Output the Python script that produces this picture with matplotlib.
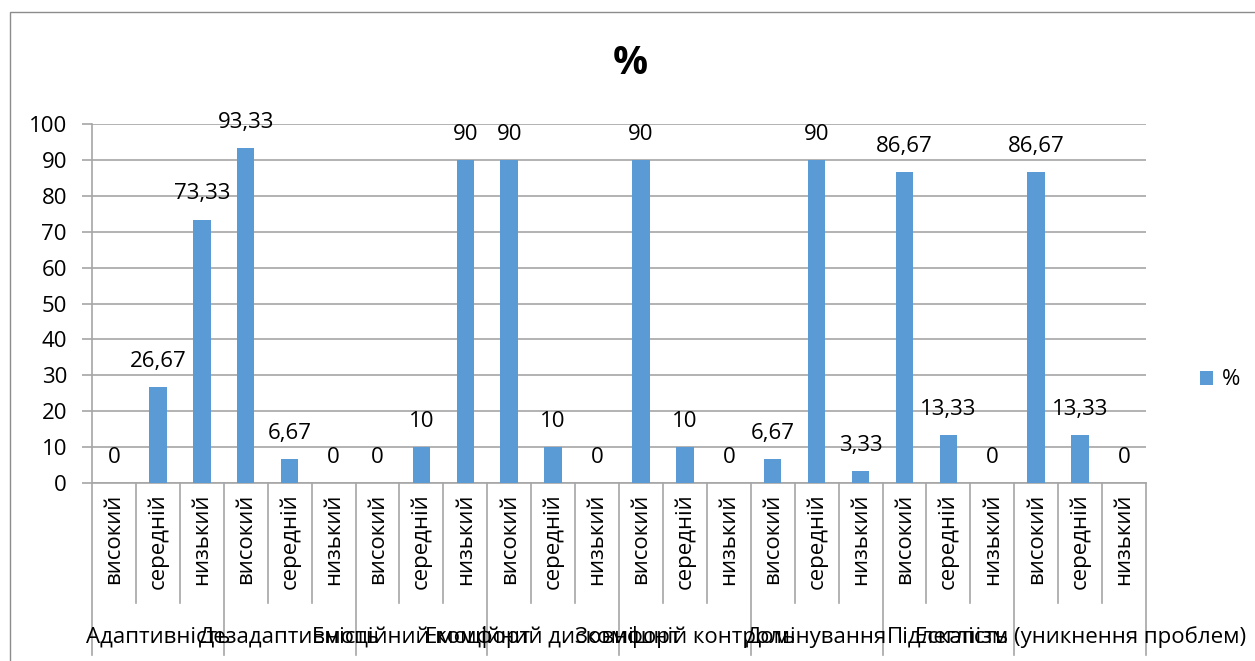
import matplotlib
matplotlib.use("Agg")
import matplotlib.pyplot as plt
from matplotlib.patches import Rectangle

plt.rcParams["font.family"] = ["Open Sans", "DejaVu Sans"]

GROUPS = ["Адаптивність", "Дезадаптивність", "Емоційний комфорт", "Емоційний дискомфорт",
          "Зовнішній контроль", "Домінування", "Підлеглість", "Ескапізм (уникнення проблем)"]
LEVELS = ["високий", "середній", "низький"]
VALUES = [0, 26.67, 73.33,
          93.33, 6.67, 0,
          0, 10, 90,
          90, 10, 0,
          90, 10, 0,
          6.67, 90, 3.33,
          86.67, 13.33, 0,
          86.67, 13.33, 0]
SERIES = "%"

BAR = "#5B9BD5"; GRID = "#A6A6A6"; FS = 16

fig = plt.figure(figsize=(12.55, 6.61), dpi=100)
fig.patches.append(Rectangle((10 / 1255, -0.1), 1.2, (661 - 12) / 661 + 0.1, transform=fig.transFigure,
                             fill=False, ec="#8c8c8c", lw=1.0))
ax = fig.add_axes([92 / 1255, (661 - 483) / 661, (1146 - 92) / 1255, (483 - 124) / 661])

n = len(VALUES)
xs = list(range(n))
bars = ax.bar(xs, VALUES, width=0.4, color=BAR, zorder=3, label=SERIES)
for x, v in zip(xs, VALUES):
    lab = f"{v:g}".replace(".", ",")
    ax.annotate(lab, (x, v), xytext=(0, 11), textcoords="offset points",
                ha="center", va="bottom", fontsize=FS, zorder=4)

ax.set_xlim(-0.5, n - 0.5)
ax.set_ylim(0, 100)
ax.set_yticks(range(0, 101, 10))
ax.yaxis.grid(True, color=GRID, lw=1.2, zorder=0)
ax.tick_params(axis="y", length=7, width=1.2, color=GRID, pad=11, labelsize=FS)
ax.tick_params(axis="x", length=0, labelbottom=False)
for s in ["top", "right"]:
    ax.spines[s].set_visible(False)
for s in ["left", "bottom"]:
    ax.spines[s].set_color(GRID); ax.spines[s].set_linewidth(1.2)

tr = ax.get_xaxis_transform()
for k in range(n + 1):
    xb = k - 0.5
    y1 = -0.48 if k % 3 == 0 else -0.333
    ax.plot([xb, xb], [0, y1], transform=tr, color=GRID, lw=1.2, clip_on=False)
for i in range(n):
    ax.text(i, -0.03, LEVELS[i % 3], transform=tr, rotation=90, ha="center", va="top", fontsize=FS)
for g, name in enumerate(GROUPS):
    ax.text(3 * g + 1, -0.43, name, transform=tr, ha="center", va="center", fontsize=FS)

fig.text(630 / 1255, 1 - 64 / 661, "%", ha="center", va="center", fontsize=28, fontweight="bold")
fig.legend(handles=[bars], loc="center left", bbox_to_anchor=(1180 / 1255, 1 - 380 / 661),
           frameon=False, fontsize=FS, handlelength=0.6, handleheight=0.6, handletextpad=0.4)

fig.savefig("out.png", dpi=100)
